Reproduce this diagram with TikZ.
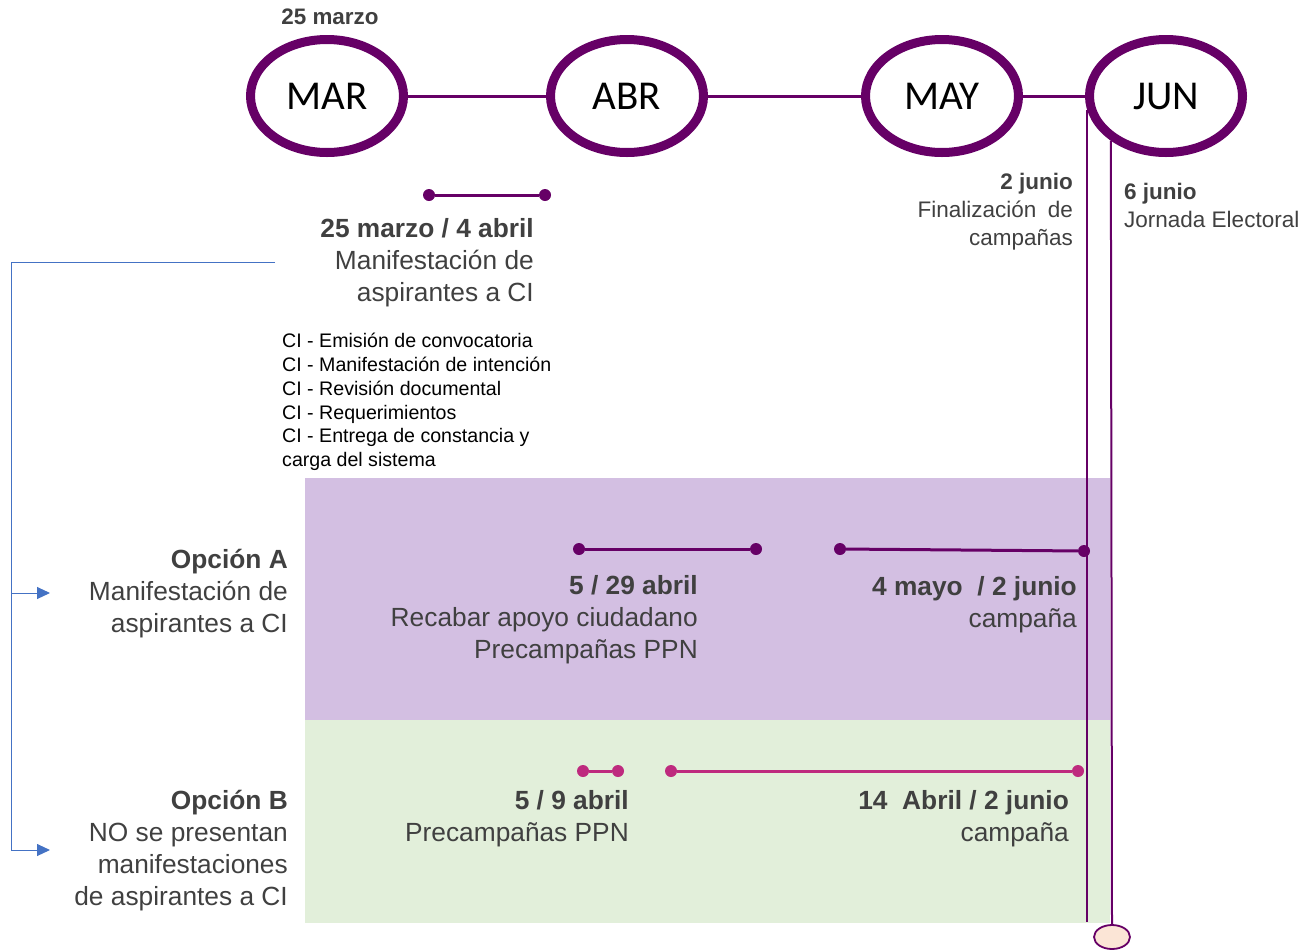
\documentclass[tikz,border=0pt]{standalone}
\usepackage{fontspec}
\setmainfont{Liberation Sans}
\newfontfamily\monthfont{Carlito}
\usetikzlibrary{shapes.geometric,arrows.meta}
\definecolor{dpurple}{HTML}{660066}
\definecolor{magen}{HTML}{BE2A7E}
\definecolor{lav}{HTML}{D3BFE2}
\definecolor{mint}{HTML}{E2EFDA}
\definecolor{peach}{HTML}{FBE5D6}
\definecolor{txt}{HTML}{404040}
\definecolor{bblue}{HTML}{4472C4}
\begin{document}
\begin{tikzpicture}[x=1pt,y=-1pt,
  month/.style={ellipse, draw=dpurple, line width=9pt, minimum width=153pt, minimum height=113pt, inner sep=0pt, font=\monthfont\fontsize{41}{41}\selectfont},
  link/.style={draw=dpurple, line width=3pt},
  vline/.style={draw=dpurple, line width=2pt},
  pdot/.style={circle, fill=dpurple, minimum size=12pt, inner sep=0pt},
  mdot/.style={circle, fill=magen, minimum size=12pt, inner sep=0pt},
  pbar/.style={draw=dpurple, line width=3pt},
  mbar/.style={draw=magen, line width=3pt},
  lbl/.style={text=txt, inner sep=0pt, align=right, font=\fontsize{26.3}{32}\selectfont},
  small/.style={text=txt, inner sep=0pt, font=\fontsize{22.5}{28}\selectfont},
  cilist/.style={text=black, inner sep=0pt, align=left, font=\fontsize{19.6}{23.8}\selectfont},
  brk/.style={draw=bblue, line width=1pt},
  brkarrow/.style={draw=bblue, line width=1pt, -{Triangle[length=13pt,width=12pt]}}
]
\useasboundingbox (0,0) rectangle (1309,951);
% background bands
\fill[lav] (305,478) rectangle (1110,720);
\fill[mint] (305,720) rectangle (1110,923);

% months
\node[month] (mar) at (327,96) {MAR};
\node[month] (abr) at (627,96) {ABR};
\node[month] (may) at (942,96) {MAY};
\node[month] (jun) at (1166,96) {JUN};
\draw[link] (mar) -- (abr);
\draw[link] (abr) -- (may);
\draw[link] (may) -- (jun);

\node[text=txt, inner sep=0pt, font=\bfseries\fontsize{22.4}{24}\selectfont] (t25) at (330,17) {25 marzo};

% vertical lines
\coordinate (endA) at (1087,922);
\draw[vline] (jun.190) -- (jun.190 |- endA);
\node[ellipse, draw=dpurple, fill=peach, line width=1.8pt, minimum width=36pt, minimum height=24pt, inner sep=0pt] (ev) at (1112,937) {};
\draw[vline] (jun.219) -- (ev.north);

% first period
\node[pdot] (d1) at (429,195) {};
\node[pdot] (d2) at (545,195) {};
\draw[pbar] (d1) -- (d2);
\node[lbl, anchor=east] (b1) at (534,263) {\textbf{25 marzo / 4 abril}\\Manifestación de\\aspirantes a CI};

\node[cilist, anchor=west] (ci) at (282,402) {CI - Emisión de convocatoria\\CI - Manifestación de intención\\CI - Revisión documental\\CI - Requerimientos\\CI - Entrega de constancia y\\carga del sistema};

% end of campaigns / election
\node[small, align=right, anchor=east] (fin) at (1073,212) {\textbf{2 junio}\\Finalización\hspace{0.5em}de\\campañas};
\node[small, align=left, anchor=west] (jor) at (1124,205) {\textbf{6 junio}\\Jornada Electoral};

% bracket
\coordinate (bt) at (275,262);
\coordinate (bl) at (11,262);
\coordinate (aA) at (50,593);
\coordinate (aB) at (50,850);
\draw[brk] (bt) -- (bl) -- (bl |- aB);
\draw[brkarrow] (bl |- aA) -- (aA);
\draw[brkarrow] (bl |- aB) -- (aB);

% option A
\node[lbl, anchor=east] (oa) at (288,594) {\textbf{Opción A}\\Manifestación de\\aspirantes a CI};
\node[pdot] (a1) at (579,549) {};
\node[pdot] (a2) at (756,549) {};
\draw[pbar] (a1) -- (a2);
\node[pdot] (a3) at (840,549) {};
\node[pdot] (a4) at (1084,551) {};
\draw[pbar] (a3) -- (a4);
\node[lbl, anchor=east] (la1) at (698,620) {\textbf{5 / 29 abril}\\Recabar apoyo ciudadano\\Precampañas PPN};
\node[lbl, anchor=east] (la2) at (1077,605) {\textbf{4 mayo\ \ / 2 junio}\\campaña};

% option B
\node[lbl, anchor=east] (ob) at (288,851) {\textbf{Opción B}\\NO se presentan\\manifestaciones\\de aspirantes a CI};
\node[mdot] (m1) at (583,771) {};
\node[mdot] (m2) at (618,771) {};
\draw[mbar] (m1) -- (m2);
\node[mdot] (m3) at (671,771) {};
\node[mdot] (m4) at (1078,771) {};
\draw[mbar] (m3) -- (m4);
\node[lbl, anchor=east] (lb1) at (629,819) {\textbf{5 / 9 abril}\\Precampañas PPN};
\node[lbl, anchor=east] (lb2) at (1069,819) {\textbf{14\ \ Abril / 2 junio}\\campaña};
\end{tikzpicture}
\end{document}
